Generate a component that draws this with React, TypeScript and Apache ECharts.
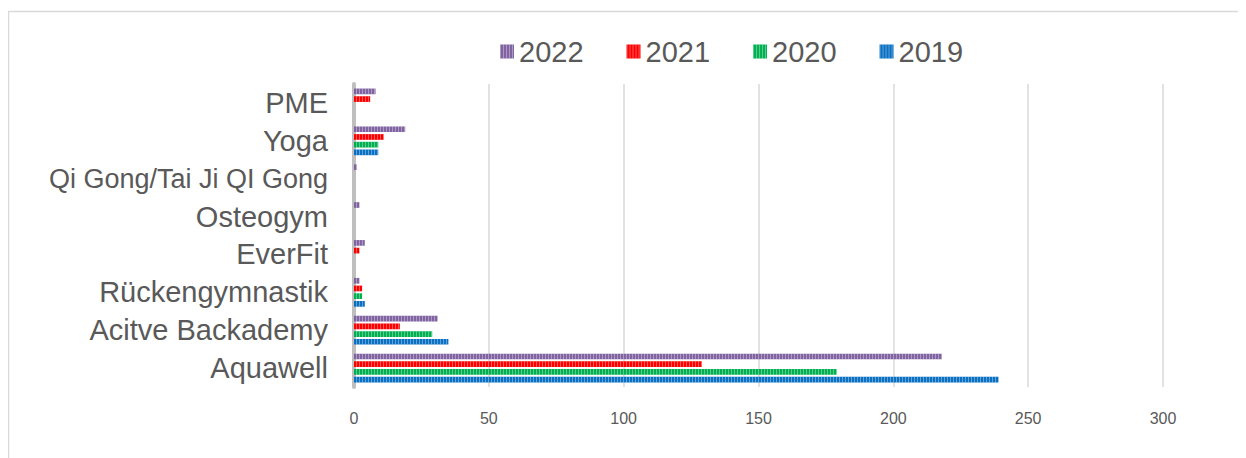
import React, { useEffect, useRef } from "react";
import * as echarts from "echarts";

const categories = [
  "Aquawell",
  "Acitve Backademy",
  "Rückengymnastik",
  "EverFit",
  "Osteogym",
  "Qi Gong/Tai Ji QI Gong",
  "Yoga",
  "PME",
];
const values2019 = [239, 35, 4, 0, 0, 0, 9, 0];
const values2020 = [179, 29, 3, 0, 0, 0, 9, 0];
const values2021 = [129, 17, 3, 2, 0, 0, 11, 6];
const values2022 = [218, 31, 2, 4, 2, 1, 19, 8];
const xTicks = [0, 50, 100, 150, 200, 250, 300];
const legendOrder = ["2022", "2021", "2020", "2019"];

const seriesDefs = [
  { name: "2022", data: values2022, color: "#8064A2" },
  { name: "2021", data: values2021, color: "#FF0000" },
  { name: "2020", data: values2020, color: "#00B050" },
  { name: "2019", data: values2019, color: "#0A70C2" },
];

export default function App() {
  const ref = useRef<HTMLDivElement>(null);
  useEffect(() => {
    if (!ref.current) return;
    const chart = echarts.init(ref.current, undefined, { renderer: "svg" });
    const textColor = "#595959";
    const font = "Liberation Sans, Arial, sans-serif";
    chart.setOption({
      animation: false,
      aria: { enabled: true, decal: { show: true } },
      graphic: [
        {
          type: "rect",
          shape: { x: 0.5, y: 3.5, width: 1400, height: 600 },
          style: { fill: "none", stroke: "#d9d9d9", lineWidth: 1.5 },
          silent: true,
        },
      ],
      legend: {
        data: legendOrder,
        left: 487,
        top: 24,
        itemWidth: 14,
        itemHeight: 14,
        itemGap: 43,
        icon: "rect",
        textStyle: { fontSize: 29, color: textColor, fontFamily: font },
      },
      grid: { left: 346, right: 83, top: 76, height: 303, containLabel: false },
      xAxis: {
        type: "value",
        min: xTicks[0],
        max: xTicks[xTicks.length - 1],
        interval: 50,
        axisLine: { show: false },
        axisTick: { show: false },
        splitLine: { show: true, lineStyle: { color: "#d9d9d9", width: 1.5 } },
        axisLabel: {
          margin: 23,
          fontSize: 16,
          color: textColor,
          fontFamily: "Liberation Sans Narrow, Liberation Sans, Arial, sans-serif",
        },
      },
      yAxis: {
        type: "category",
        data: categories,
        axisLine: { show: true, lineStyle: { color: "#bfbfbf", width: 4 } },
        axisTick: { show: false },
        axisLabel: {
          margin: 26,
          fontSize: 29,
          color: textColor,
          fontFamily: font,
          formatter: (v: string) => (v.length > 18 ? "{s|" + v + "}" : v),
          rich: {
            s: { fontSize: 27, color: textColor, fontFamily: font },
          },
        },
      },
      series: seriesDefs.map((s) => ({
        name: s.name,
        type: "bar",
        data: s.data,
        barCategoryGap: "24%",
        barGap: "35%",
        itemStyle: {
          color: s.color,
          decal: {
            symbol: "rect",
            symbolSize: 1,
            dashArrayX: [1, 2],
            dashArrayY: [4, 0],
            rotation: 0,
            color: "rgba(255,255,255,0.35)",
          },
        },
      })),
    });
    return () => chart.dispose();
  }, []);
  return <div ref={ref} style={{ width: 1238, height: 450 }} />;
}
